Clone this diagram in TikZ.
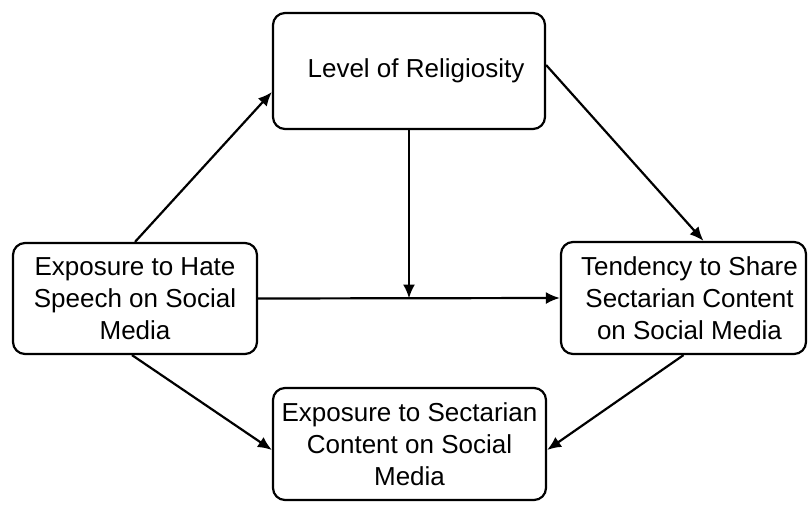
\documentclass[tikz,border=0pt]{standalone}
\usepackage{fontspec}
\setmainfont{Liberation Sans}
\usetikzlibrary{arrows.meta}

\tikzset{
  box/.style={draw, line width=2.2pt, rounded corners=12pt, align=center,
    inner sep=0pt, font=\fontsize{26}{32}\selectfont},
  arr/.style={line width=2.2pt, -{Latex[length=14pt,width=12pt]}}
}

\begin{document}
\begin{tikzpicture}[x=1pt,y=-1pt]
          \useasboundingbox (0,0) rectangle (809,506);

          \node[box, minimum width=272pt, minimum height=116pt] (rel) at (409,71) {\hspace*{14pt}Level of Religiosity};
          \node[box, minimum width=244pt, minimum height=111pt] (hate) at (135,298.5) {Exposure to Hate\\Speech on Social\\Media};
          \node[box, minimum width=245pt, minimum height=112pt] (share) at (683.5,298) {\hspace*{12pt}Tendency to Share\\\hspace*{12pt}Sectarian Content\\\hspace*{12pt}on Social Media};
          \node[box, minimum width=273pt, minimum height=112pt] (sect) at (409.5,444) {Exposure to Sectarian\\Content on Social\hspace*{14pt}\\Media};

          \coordinate (meet) at (rel.south |- hate.east);

          \draw[arr] (hate.north) -- ([yshift=-21pt]rel.west);
          \draw[arr] ([yshift=6pt]rel.east) -- ([xshift=20pt]share.north);
          \draw[arr] (rel.south) -- (meet);
          \draw[arr] (hate.east) -- (share.west);
          \draw[arr] ([xshift=-3pt]hate.south) -- ([yshift=-6pt]sect.west);
          \draw[arr] (share.south) -- ([yshift=-6pt]sect.east);
\end{tikzpicture}
\end{document}
